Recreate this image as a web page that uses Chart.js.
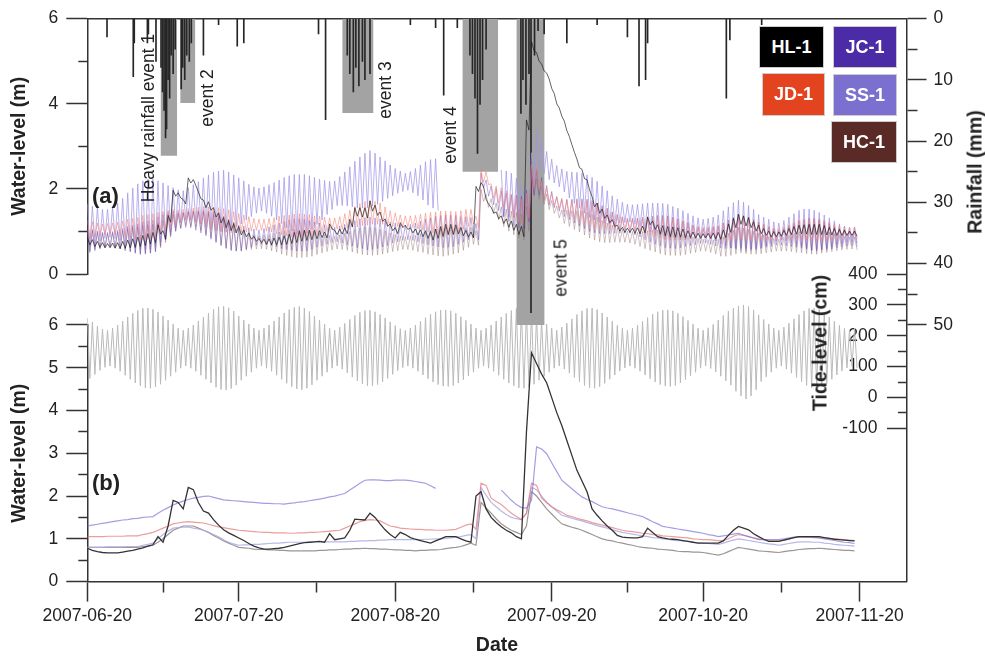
<!DOCTYPE html>
<html><head><meta charset="utf-8">
<script src="https://cdn.jsdelivr.net/npm/chart.js@4.4.1/dist/chart.umd.min.js"></script>
<style>
body{margin:0;background:#fff;}
#wrap{position:relative;width:985px;height:657px;font-family:"Liberation Sans",Arial,sans-serif;color:#222;}
canvas{position:absolute;left:0;top:0;}
.lg{position:absolute;color:#fff;font-weight:bold;font-size:18px;display:flex;align-items:center;justify-content:center;box-sizing:border-box;border:1px solid #ccc;}
.rot{position:absolute;transform:translate(-50%,-50%) rotate(-90deg);white-space:nowrap;font-size:17.5px;}
.bt{font-weight:bold;font-size:19.5px;}
.pl{position:absolute;font-weight:bold;font-size:22px;}
</style></head><body>
<div id="wrap"><canvas id="c" width="985" height="657"></canvas>
<div class="lg" style="left:759px;top:26px;width:65px;height:42px;background:#000;">HL-1</div>
<div class="lg" style="left:833px;top:26px;width:64px;height:42px;background:#4b2ca6;">JC-1</div>
<div class="lg" style="left:762px;top:73px;width:63px;height:43px;background:#e4431f;">JD-1</div>
<div class="lg" style="left:833px;top:74px;width:64px;height:42px;background:#7b6fcf;">SS-1</div>
<div class="lg" style="left:831px;top:121px;width:66px;height:42px;background:#5a2b26;">HC-1</div>
<div class="pl" style="left:92px;top:183px;">(a)</div>
<div class="pl" style="left:92px;top:470px;">(b)</div>
<div class="rot" style="left:148px;top:118px;">Heavy rainfall event 1</div>
<div class="rot" style="left:207px;top:98px;">event 2</div>
<div class="rot" style="left:385px;top:90px;">event 3</div>
<div class="rot" style="left:450px;top:135px;">event 4</div>
<div class="rot" style="left:561px;top:268px;">event 5</div>
<div class="rot bt" style="left:975px;top:172px;">Rainfall (mm)</div>
<div class="rot bt" style="left:820px;top:343px;">Tide-level (cm)</div>
</div>
<script>
// ---- axis / tick definitions (day 0 = 2007-06-20) ----
const X_MAX = 162.3;
const xTickDays = [0, 15, 30, 45.5, 61, 76.5, 92, 107, 122, 137.5, 153];
const xMajorDays = [0, 30, 61, 92, 122, 153];
const xTickLabels = ['2007-06-20', '2007-07-20', '2007-08-20', '2007-09-20', '2007-10-20', '2007-11-20'];
const wlTicksA = [0, 1, 2, 3, 4, 5, 6];
const wlTicksB = [0, 0.5, 1, 1.5, 2, 2.5, 3, 3.5, 4, 4.5, 5, 5.5, 6];
const rainTicks = [0, 5, 10, 15, 20, 25, 30, 35, 40, 45, 50];
const tideTicks = [-100, -50, 0, 50, 100, 150, 200, 250, 300, 350, 400];

// ---- rainfall (mm), hanging bars ----
const rainDays = [3.9,9.1,9.3,11.9,12.1,13.6,14.6,14.9,15.2,15.5,15.7,16.0,16.3,16.6,17.0,17.4,18.6,18.9,19.3,19.7,20.2,20.6,23.0,26.0,29.7,31.0,45.8,47.2,51.5,52.0,52.7,53.2,53.8,54.5,55.0,56.0,64.0,69.0,70.6,73.3,75.8,76.3,76.8,77.3,77.8,78.3,79.0,85.9,86.3,86.9,87.5,87.9,88.6,89.3,90.5,95.0,101.0,107.0,109.3,110.6,111.0,126.6,127.3,133.6];
const rainMM = [3,9.5,4,4,2.5,7,8,12,15,19.5,18,10,13,6,9,5,11.5,8,10,6,7,4,6,1,4.5,4,2.5,16.5,6,9,12,8,11,7,10,9,1,1.5,12.5,1.5,6,9,13,22,14,10,5,15.5,10,14,9,48,6,2,2.5,4,1,3,11,10,4,13,3.5,1];

// ---- heavy rainfall events (grey boxes) ----
const evStart = [14.5, 18.4, 50.5, 74.3, 85.0];
const evEnd = [17.8, 21.4, 56.7, 81.4, 90.6];
const evDepth = [22.4, 13.8, 15.4, 25, 51];

// ---- tide level (cm): daily high / low ----
const tideHi = [258,245,232,222,218,225,235,248,261,273,282,289,290,286,277,264,251,238,225,218,225,235,248,261,273,287,294,296,291,280,264,251,238,225,218,225,235,248,261,274,285,292,295,290,279,264,251,238,225,218,228,240,253,266,276,282,283,278,269,258,245,233,223,218,225,235,247,259,270,278,283,284,281,273,262,250,238,225,218,225,235,248,261,273,282,289,290,286,277,264,251,238,225,218,228,241,255,269,281,289,290,285,274,261,247,234,224,218,225,235,247,259,270,278,283,284,281,273,262,250,238,225,218,226,237,251,266,280,290,297,300,295,284,268,253,238,225,218,228,241,255,269,281,289,290,285,274,261,247,234,224,218,225];
const tideLo = [62,75,88,98,102,95,85,72,59,47,38,31,30,34,43,56,69,82,95,102,95,85,72,59,47,33,26,24,29,40,56,69,82,95,102,95,85,72,59,46,35,28,25,30,41,56,69,82,95,102,92,80,67,54,44,38,37,42,51,62,75,87,97,102,95,85,73,61,50,42,37,36,39,47,58,70,82,95,102,95,85,72,59,47,38,31,30,34,43,56,69,82,95,102,92,79,65,51,39,31,30,35,46,59,73,86,96,102,95,85,73,61,50,42,37,36,39,47,58,70,82,95,102,94,83,69,54,40,20,5,-5,5,25,52,67,82,95,102,92,79,65,51,39,31,30,35,46,59,73,86,96,102,95];

// ---- panel (a): water level (m), daily high / low ----
const N = null;
const ssHi = [1.65,1.60,1.56,1.52,1.52,1.57,1.67,1.78,1.91,2.02,2.12,2.19,2.23,2.23,2.19,2.14,2.08,2.03,1.98,1.96,2.03,2.10,2.17,2.26,2.33,2.39,2.42,2.44,2.40,2.33,2.26,2.19,2.11,2.05,2.02,2.05,2.10,2.15,2.21,2.27,2.31,2.34,2.34,2.34,2.31,2.27,2.23,2.20,2.18,2.19,2.29,2.40,2.52,2.65,2.75,2.84,2.90,2.84,2.75,2.66,2.56,2.48,2.42,2.37,2.41,2.48,2.56,2.64,2.69,2.71,N,N,N,N,N,N,N,N,N,N,N,N,2.45,2.42,2.37,2.25,2.10,1.99,2.85,3.38,3.14,2.88,2.70,2.55,2.47,2.41,2.40,2.39,2.37,2.33,2.27,2.18,2.07,1.96,1.84,1.76,1.69,1.64,1.63,1.64,1.65,1.67,1.67,1.67,1.66,1.64,1.59,1.55,1.49,1.43,1.37,1.32,1.29,1.31,1.34,1.39,1.49,1.58,1.68,1.74,1.69,1.61,1.52,1.40,1.34,1.29,1.23,1.20,1.26,1.34,1.42,1.50,1.53,1.53,1.50,1.45,1.39,1.32,1.25,1.18,1.13,1.10,1.11];
const ssLo = [0.65,0.72,0.78,0.84,0.86,0.83,0.79,0.74,0.67,0.62,0.58,0.57,0.59,0.65,0.75,0.86,0.98,1.09,1.20,1.28,1.27,1.22,1.17,1.10,1.05,1.01,1.00,1.00,1.04,1.11,1.18,1.27,1.35,1.43,1.48,1.43,1.36,1.27,1.19,1.09,1.01,0.94,0.90,0.96,1.05,1.17,1.27,1.40,1.52,1.61,1.61,1.60,1.58,1.55,1.55,1.56,1.60,1.64,1.71,1.78,1.84,1.90,1.94,1.97,1.91,1.84,1.74,1.62,1.55,1.49,N,N,N,N,N,N,N,N,N,N,N,N,1.35,1.34,1.33,1.25,1.20,1.21,1.95,2.41,2.36,2.22,2.14,2.05,1.93,1.79,1.66,1.55,1.43,1.33,1.27,1.22,1.19,1.18,1.16,1.20,1.21,1.22,1.17,1.12,1.05,0.99,0.93,0.89,0.84,0.82,0.81,0.81,0.81,0.83,0.83,0.86,0.87,0.83,0.78,0.71,0.67,0.62,0.58,0.56,0.53,0.55,0.56,0.60,0.66,0.71,0.77,0.80,0.78,0.74,0.70,0.66,0.61,0.57,0.58,0.59,0.61,0.64,0.69,0.72,0.75,0.76,0.73];
const jdHi = [1.26,1.23,1.20,1.18,1.19,1.20,1.22,1.25,1.29,1.31,1.33,1.38,1.40,1.42,1.45,1.47,1.50,1.52,1.51,1.52,1.54,1.55,1.57,1.59,1.58,1.57,1.56,1.54,1.51,1.47,1.42,1.39,1.35,1.31,1.29,1.29,1.31,1.33,1.36,1.38,1.39,1.41,1.42,1.41,1.40,1.37,1.36,1.34,1.32,1.32,1.35,1.42,1.50,1.59,1.66,1.71,1.73,1.71,1.67,1.58,1.49,1.44,1.39,1.37,1.37,1.38,1.41,1.43,1.45,1.46,1.48,1.48,1.48,1.47,1.49,1.52,1.52,1.36,2.44,2.40,2.12,2.07,2.03,1.96,1.88,1.82,1.75,1.89,2.57,2.49,2.16,2.03,1.90,1.82,1.78,1.74,1.74,1.73,1.73,1.72,1.68,1.64,1.58,1.52,1.46,1.40,1.35,1.32,1.32,1.32,1.33,1.33,1.33,1.34,1.34,1.33,1.31,1.28,1.25,1.21,1.16,1.13,1.10,1.12,1.13,1.14,1.17,1.23,1.31,1.37,1.35,1.31,1.26,1.22,1.17,1.12,1.09,1.07,1.11,1.16,1.23,1.27,1.29,1.31,1.31,1.29,1.26,1.22,1.18,1.14,1.11,1.09,1.10];
const jdLo = [0.84,0.87,0.90,0.92,0.93,0.92,0.90,0.87,0.85,0.83,0.81,0.82,0.84,0.88,0.95,1.03,1.10,1.18,1.23,1.26,1.26,1.23,1.19,1.15,1.10,1.05,1.00,0.98,0.97,0.97,0.98,0.99,1.01,1.03,1.03,1.01,0.99,0.95,0.92,0.90,0.87,0.85,0.86,0.87,0.90,0.93,0.96,1.00,1.04,1.06,1.05,1.08,1.10,1.11,1.14,1.15,1.17,1.17,1.17,1.14,1.11,1.12,1.11,1.11,1.09,1.06,1.03,0.99,0.97,0.94,0.92,0.92,0.94,0.97,1.05,1.12,1.18,1.08,2.16,2.10,1.78,1.67,1.57,1.44,1.32,1.22,1.15,1.31,2.03,2.01,1.74,1.67,1.60,1.54,1.46,1.36,1.30,1.23,1.17,1.12,1.08,1.06,1.06,1.06,1.06,1.06,1.05,1.04,1.02,0.98,0.93,0.91,0.87,0.84,0.80,0.79,0.79,0.80,0.81,0.83,0.84,0.85,0.86,0.84,0.81,0.78,0.75,0.77,0.81,0.83,0.81,0.79,0.78,0.78,0.79,0.80,0.81,0.83,0.83,0.82,0.83,0.81,0.79,0.77,0.77,0.77,0.78,0.80,0.82,0.84,0.85,0.85,0.82];
const hcHi = [1.05,1.01,0.98,0.96,0.95,0.97,0.99,1.02,1.06,1.09,1.11,1.15,1.16,1.17,1.22,1.26,1.33,1.40,1.42,1.45,1.47,1.49,1.47,1.46,1.44,1.39,1.35,1.28,1.22,1.15,1.06,1.02,0.98,0.93,0.90,0.92,0.93,0.96,0.99,1.02,1.03,1.05,1.05,1.04,1.02,0.98,0.96,0.93,0.91,0.89,0.92,0.96,1.00,1.05,1.08,1.11,1.10,1.09,1.05,1.02,0.97,0.93,0.90,0.88,0.90,0.91,0.95,0.99,1.03,1.05,1.08,1.10,1.11,1.10,1.08,1.09,1.10,1.02,1.99,1.87,1.77,1.67,1.58,1.53,1.48,1.45,1.40,1.59,2.37,2.24,2.06,1.88,1.73,1.60,1.51,1.50,1.49,1.49,1.48,1.45,1.40,1.34,1.26,1.20,1.15,1.09,1.05,1.01,1.00,0.99,1.00,1.02,1.04,1.04,1.05,1.04,1.02,0.98,0.94,0.91,0.87,0.84,0.82,0.81,0.81,0.82,0.88,0.96,1.03,1.10,1.08,1.05,1.01,0.96,0.92,0.88,0.84,0.82,0.86,0.91,0.95,1.00,1.04,1.07,1.07,1.07,1.03,0.99,0.95,0.91,0.88,0.87,0.87];
const hcLo = [0.55,0.59,0.62,0.64,0.65,0.63,0.61,0.58,0.54,0.51,0.49,0.49,0.50,0.53,0.62,0.74,0.87,1.00,1.08,1.15,1.13,1.11,1.03,0.94,0.86,0.77,0.69,0.62,0.58,0.55,0.54,0.56,0.58,0.59,0.60,0.58,0.55,0.52,0.47,0.44,0.41,0.39,0.39,0.40,0.42,0.46,0.50,0.53,0.57,0.59,0.58,0.56,0.52,0.49,0.46,0.45,0.44,0.45,0.47,0.50,0.53,0.55,0.58,0.58,0.56,0.53,0.51,0.47,0.45,0.43,0.42,0.44,0.47,0.50,0.56,0.63,0.70,0.68,1.71,1.57,1.43,1.27,1.12,1.01,0.92,0.85,0.80,1.01,1.83,1.76,1.64,1.52,1.43,1.32,1.19,1.12,1.05,0.99,0.92,0.85,0.80,0.76,0.74,0.74,0.75,0.75,0.75,0.73,0.70,0.65,0.60,0.56,0.52,0.48,0.45,0.44,0.44,0.44,0.46,0.49,0.51,0.54,0.54,0.51,0.47,0.42,0.42,0.44,0.47,0.50,0.48,0.47,0.47,0.48,0.50,0.52,0.54,0.54,0.54,0.53,0.51,0.50,0.48,0.47,0.47,0.49,0.51,0.53,0.55,0.57,0.58,0.59,0.57];
const jcHi = [1.09,1.05,1.01,0.98,0.98,1.00,1.03,1.07,1.12,1.15,1.18,1.23,1.25,1.27,1.34,1.40,1.45,1.48,1.45,1.44,1.47,1.47,1.49,1.50,1.48,1.46,1.43,1.36,1.29,1.22,1.15,1.13,1.09,1.06,1.04,1.07,1.11,1.16,1.20,1.24,1.28,1.30,1.30,1.29,1.26,1.23,1.20,1.16,1.12,1.10,1.13,1.17,1.22,1.26,1.30,1.33,1.34,1.32,1.30,1.27,1.23,1.20,1.17,1.15,1.17,1.20,1.24,1.29,1.32,1.36,1.38,1.39,1.39,1.38,1.35,1.35,1.33,1.19,2.37,2.21,2.07,2.01,1.95,1.90,1.86,1.85,1.83,1.97,2.54,2.45,2.27,2.08,1.94,1.82,1.75,1.76,1.76,1.77,1.77,1.76,1.73,1.67,1.61,1.55,1.46,1.40,1.34,1.30,1.30,1.31,1.33,1.35,1.36,1.38,1.38,1.37,1.34,1.30,1.25,1.21,1.15,1.10,1.07,1.08,1.10,1.13,1.20,1.27,1.33,1.38,1.36,1.33,1.28,1.22,1.17,1.11,1.06,1.02,1.07,1.13,1.19,1.25,1.28,1.31,1.30,1.28,1.23,1.19,1.12,1.08,1.04,1.01,1.02];
const jcLo = [0.51,0.55,0.59,0.62,0.64,0.62,0.59,0.55,0.52,0.49,0.46,0.47,0.49,0.53,0.66,0.80,0.91,1.02,1.07,1.10,1.09,1.03,0.97,0.90,0.82,0.74,0.67,0.60,0.55,0.54,0.55,0.59,0.63,0.68,0.70,0.69,0.67,0.64,0.60,0.58,0.56,0.54,0.54,0.55,0.58,0.63,0.66,0.70,0.74,0.76,0.73,0.69,0.66,0.62,0.60,0.57,0.58,0.60,0.64,0.67,0.73,0.76,0.79,0.81,0.79,0.76,0.72,0.69,0.66,0.64,0.62,0.63,0.65,0.70,0.75,0.81,0.87,0.81,2.03,1.83,1.63,1.49,1.35,1.24,1.14,1.09,1.07,1.23,1.86,1.85,1.73,1.62,1.56,1.48,1.35,1.28,1.20,1.13,1.07,1.00,0.97,0.95,0.95,0.95,0.96,0.96,0.96,0.96,0.92,0.87,0.81,0.75,0.70,0.66,0.62,0.61,0.60,0.62,0.65,0.67,0.69,0.72,0.73,0.70,0.66,0.61,0.60,0.61,0.61,0.62,0.60,0.59,0.60,0.62,0.63,0.65,0.68,0.68,0.67,0.65,0.63,0.61,0.58,0.55,0.54,0.56,0.57,0.59,0.62,0.64,0.66,0.67,0.64];
const hlHi = [0.87,0.81,0.77,0.74,0.72,0.73,0.74,0.77,0.80,0.83,0.87,0.91,0.95,0.98,1.16,1.02,1.38,1.97,1.91,1.75,2.26,2.22,1.93,1.74,1.70,1.56,1.44,1.33,1.26,1.19,1.12,1.04,0.96,0.89,0.84,0.82,0.83,0.85,0.87,0.90,0.94,0.98,1.01,1.03,1.03,1.03,1.02,0.99,1.18,1.03,1.06,1.09,1.29,1.56,1.56,1.56,1.72,1.62,1.46,1.30,1.18,1.09,1.21,1.15,1.09,1.06,1.04,1.02,1.00,1.06,1.12,1.17,1.17,1.16,1.10,1.03,0.99,2.06,2.15,1.76,1.57,1.46,1.37,1.30,1.25,1.17,1.12,3.62,5.46,5.20,4.93,4.72,4.36,4.00,3.71,3.37,3.04,2.70,2.46,2.22,1.82,1.67,1.53,1.39,1.28,1.15,1.10,1.08,1.08,1.09,1.13,1.34,1.25,1.16,1.14,1.12,1.11,1.09,1.06,1.02,0.99,0.96,0.95,0.96,0.97,0.98,1.04,1.18,1.31,1.41,1.37,1.33,1.23,1.15,1.07,1.01,1.00,0.99,1.03,1.07,1.12,1.15,1.16,1.17,1.17,1.17,1.14,1.10,1.07,1.05,1.03,1.01,1.01];
const hlLo = [0.69,0.65,0.63,0.62,0.62,0.61,0.60,0.61,0.62,0.63,0.65,0.67,0.71,0.74,0.94,0.82,1.22,1.83,1.79,1.65,2.14,2.08,1.77,1.56,1.50,1.34,1.20,1.09,1.02,0.97,0.92,0.88,0.82,0.77,0.74,0.70,0.69,0.69,0.69,0.70,0.72,0.74,0.77,0.79,0.81,0.83,0.86,0.85,1.06,0.93,0.94,0.95,1.11,1.36,1.34,1.32,1.48,1.38,1.24,1.12,1.02,0.95,1.09,1.05,0.97,0.92,0.88,0.84,0.80,0.84,0.88,0.93,0.93,0.94,0.90,0.87,0.85,1.94,2.05,1.64,1.43,1.30,1.19,1.10,1.03,0.93,0.88,3.38,5.24,5.00,4.77,4.58,4.24,3.90,3.59,3.23,2.86,2.50,2.24,1.98,1.58,1.43,1.31,1.21,1.12,1.01,0.98,0.98,0.96,0.95,0.97,1.16,1.05,0.94,0.90,0.88,0.87,0.87,0.86,0.86,0.85,0.84,0.85,0.84,0.83,0.82,0.86,0.98,1.09,1.17,1.13,1.09,1.01,0.95,0.91,0.87,0.88,0.89,0.91,0.93,0.94,0.95,0.94,0.93,0.93,0.93,0.92,0.92,0.91,0.91,0.91,0.91,0.89];

// ---- panel (b): daily mean water level (m) ----
const hlMean = [0.78,0.73,0.70,0.68,0.67,0.67,0.67,0.69,0.71,0.73,0.76,0.79,0.83,0.86,1.05,0.92,1.30,1.90,1.85,1.70,2.20,2.15,1.85,1.65,1.60,1.45,1.32,1.21,1.14,1.08,1.02,0.96,0.89,0.83,0.79,0.76,0.76,0.77,0.78,0.80,0.83,0.86,0.89,0.91,0.92,0.93,0.94,0.92,1.12,0.98,1.00,1.02,1.20,1.46,1.45,1.44,1.60,1.50,1.35,1.21,1.10,1.02,1.15,1.10,1.03,0.99,0.96,0.93,0.90,0.95,1.00,1.05,1.05,1.05,1.00,0.95,0.92,2.00,2.10,1.70,1.50,1.38,1.28,1.20,1.14,1.05,1.00,3.50,5.35,5.10,4.85,4.65,4.30,3.95,3.65,3.30,2.95,2.60,2.35,2.10,1.70,1.55,1.42,1.30,1.20,1.08,1.04,1.03,1.02,1.02,1.05,1.25,1.15,1.05,1.02,1.00,0.99,0.98,0.96,0.94,0.92,0.90,0.90,0.90,0.90,0.90,0.95,1.08,1.20,1.29,1.25,1.21,1.12,1.05,0.99,0.94,0.94,0.94,0.97,1.00,1.03,1.05,1.05,1.05,1.05,1.05,1.03,1.01,0.99,0.98,0.97,0.96,0.95];
const jdMean = [1.05,1.05,1.05,1.05,1.06,1.06,1.06,1.06,1.07,1.07,1.07,1.10,1.12,1.15,1.20,1.25,1.30,1.35,1.37,1.39,1.40,1.39,1.38,1.37,1.34,1.31,1.28,1.26,1.24,1.22,1.20,1.19,1.18,1.17,1.16,1.15,1.15,1.14,1.14,1.14,1.13,1.13,1.14,1.14,1.15,1.15,1.16,1.17,1.18,1.19,1.20,1.25,1.30,1.35,1.40,1.43,1.45,1.44,1.42,1.36,1.30,1.28,1.25,1.24,1.23,1.22,1.22,1.21,1.21,1.20,1.20,1.20,1.21,1.22,1.27,1.32,1.35,1.22,2.30,2.25,1.95,1.87,1.80,1.70,1.60,1.52,1.45,1.60,2.30,2.25,1.95,1.85,1.75,1.68,1.62,1.55,1.52,1.48,1.45,1.42,1.38,1.35,1.32,1.29,1.26,1.23,1.20,1.18,1.17,1.15,1.13,1.12,1.10,1.09,1.07,1.06,1.05,1.04,1.03,1.02,1.00,0.99,0.98,0.98,0.97,0.96,0.96,1.00,1.06,1.10,1.08,1.05,1.02,1.00,0.98,0.96,0.95,0.95,0.97,0.99,1.03,1.04,1.04,1.04,1.04,1.03,1.02,1.01,1.00,0.99,0.98,0.97,0.96];
const ssMean = [1.30,1.32,1.34,1.36,1.38,1.40,1.42,1.44,1.45,1.47,1.48,1.50,1.51,1.52,1.60,1.67,1.73,1.79,1.84,1.88,1.92,1.95,1.97,1.99,2.00,1.97,1.94,1.91,1.90,1.89,1.88,1.87,1.86,1.85,1.84,1.83,1.83,1.82,1.82,1.81,1.83,1.84,1.86,1.87,1.89,1.91,1.93,1.95,1.98,2.00,2.03,2.06,2.14,2.22,2.30,2.37,2.38,2.38,2.37,2.36,2.36,2.37,2.37,2.37,2.36,2.34,2.32,2.30,2.24,2.18,N,N,N,N,N,N,N,N,N,N,N,N,2.14,2.02,1.90,1.80,1.73,1.72,1.90,3.15,3.10,2.99,2.78,2.57,2.37,2.27,2.17,2.07,1.98,1.92,1.87,1.81,1.75,1.72,1.70,1.67,1.64,1.61,1.58,1.55,1.52,1.46,1.40,1.35,1.29,1.27,1.25,1.23,1.21,1.19,1.17,1.15,1.13,1.10,1.08,1.05,1.07,1.09,1.11,1.13,1.09,1.05,1.02,0.98,0.98,0.98,0.98,0.98,1.00,1.02,1.04,1.05,1.04,1.04,1.03,1.02,1.00,0.98,0.96,0.94,0.92,0.91,0.89];
const jcMean = [0.80,0.80,0.80,0.80,0.81,0.81,0.81,0.81,0.82,0.82,0.82,0.85,0.87,0.90,1.00,1.10,1.18,1.25,1.26,1.27,1.28,1.25,1.23,1.20,1.15,1.10,1.05,0.98,0.92,0.88,0.85,0.86,0.86,0.87,0.87,0.88,0.89,0.90,0.90,0.91,0.92,0.92,0.92,0.92,0.92,0.93,0.93,0.93,0.93,0.93,0.93,0.93,0.94,0.94,0.95,0.95,0.96,0.96,0.97,0.97,0.98,0.98,0.98,0.98,0.98,0.98,0.98,0.99,0.99,1.00,1.00,1.01,1.02,1.04,1.05,1.08,1.10,1.00,2.20,2.02,1.85,1.75,1.65,1.57,1.50,1.47,1.45,1.60,2.20,2.15,2.00,1.85,1.75,1.65,1.55,1.52,1.48,1.45,1.42,1.38,1.35,1.31,1.28,1.25,1.21,1.18,1.15,1.13,1.11,1.09,1.07,1.05,1.03,1.02,1.00,0.99,0.97,0.96,0.95,0.94,0.92,0.91,0.90,0.89,0.88,0.87,0.90,0.94,0.97,1.00,0.98,0.96,0.94,0.92,0.90,0.88,0.87,0.85,0.87,0.89,0.91,0.93,0.93,0.93,0.92,0.92,0.90,0.89,0.87,0.86,0.85,0.84,0.83];
const hcMean = [0.80,0.80,0.80,0.80,0.80,0.80,0.80,0.80,0.80,0.80,0.80,0.82,0.83,0.85,0.92,1.00,1.10,1.20,1.25,1.30,1.30,1.30,1.25,1.20,1.15,1.08,1.02,0.95,0.90,0.85,0.80,0.79,0.78,0.76,0.75,0.75,0.74,0.74,0.73,0.73,0.72,0.72,0.72,0.72,0.72,0.72,0.73,0.73,0.74,0.74,0.75,0.76,0.76,0.77,0.77,0.78,0.77,0.77,0.76,0.76,0.75,0.74,0.74,0.73,0.73,0.72,0.73,0.73,0.74,0.74,0.75,0.77,0.79,0.80,0.82,0.86,0.90,0.85,1.85,1.72,1.60,1.47,1.35,1.27,1.20,1.15,1.10,1.30,2.10,2.00,1.85,1.70,1.58,1.46,1.35,1.31,1.27,1.24,1.20,1.15,1.10,1.05,1.00,0.97,0.95,0.92,0.90,0.87,0.85,0.82,0.80,0.79,0.78,0.76,0.75,0.74,0.73,0.71,0.70,0.70,0.69,0.69,0.68,0.66,0.64,0.62,0.65,0.70,0.75,0.80,0.78,0.76,0.74,0.72,0.71,0.70,0.69,0.68,0.70,0.72,0.73,0.75,0.76,0.77,0.77,0.78,0.77,0.76,0.75,0.74,0.73,0.73,0.72];

// ---- build point tables from the arrays ----
function zigzag(hi, lo) {
  const pts = [];
  for (let d = 0; d < hi.length; d++) {
    pts.push({x: d, y: hi[d]});
    pts.push({x: d + 0.5, y: lo[d]});
  }
  return pts;
}
function daily(v) { return v.map((y, d) => ({x: d, y: y})); }

const AX = '#333';
const FONT = '"Liberation Sans", Arial, Helvetica, sans-serif';
Chart.defaults.font.family = FONT;
Chart.defaults.color = '#222';

function lineDs(data, axis, color, width, order) {
  return {type: 'line', data: data, yAxisID: axis, borderColor: color, borderWidth: width,
          pointRadius: 0, tension: 0, fill: false, order: order, spanGaps: false};
}

const datasets = [];
datasets.push(lineDs(zigzag(tideHi, tideLo), 'yTide', 'rgba(186,186,186,1)', 1, 20));
for (let i = 0; i < evStart.length; i++) {
  datasets.push({type: 'line', data: [{x: evStart[i], y: evDepth[i]}, {x: evEnd[i], y: evDepth[i]}],
    yAxisID: 'yRain', borderWidth: 0, borderColor: 'rgba(0,0,0,0)', pointRadius: 0,
    backgroundColor: 'rgb(163,163,163)', fill: 'origin', order: 15});
}
datasets.push({type: 'bar', data: rainDays.map((x, i) => ({x: x, y: rainMM[i]})), yAxisID: 'yRain',
  backgroundColor: '#262626', barThickness: 1, grouped: false, order: 14});
datasets.push(lineDs(zigzag(ssHi, ssLo), 'yA', 'rgba(160,148,232,0.72)', 1, 10));
datasets.push(lineDs(zigzag(hcHi, hcLo), 'yA', 'rgba(150,115,115,0.45)', 1, 9));
datasets.push(lineDs(zigzag(jcHi, jcLo), 'yA', 'rgba(100,65,180,0.42)', 1, 8));
datasets.push(lineDs(zigzag(jdHi, jdLo), 'yA', 'rgba(245,125,115,0.55)', 1, 7));
datasets.push(lineDs(zigzag(hlHi, hlLo), 'yA', 'rgba(25,25,25,0.85)', 0.8, 6));
datasets.push(lineDs(daily(hcMean), 'yB', 'rgba(125,112,112,0.75)', 1.2, 5));
datasets.push(lineDs(daily(jcMean), 'yB', 'rgba(170,170,230,0.85)', 1.2, 4));
datasets.push(lineDs(daily(jdMean), 'yB', 'rgba(228,115,115,0.7)', 1.2, 3));
datasets.push(lineDs(daily(ssMean), 'yB', 'rgba(125,115,215,0.7)', 1.2, 2));
datasets.push(lineDs(daily(hlMean), 'yB', '#333', 1.3, 1));

const tickFont = {size: 17.5};
const titleFont = {size: 19.5, weight: 'bold'};
function setTicks(list) { return s => { s.ticks = list.map(v => ({value: v})); }; }
const SP = '      ';

const chart = new Chart(document.getElementById('c'), {
  type: 'line',
  data: {datasets: datasets},
  options: {
    responsive: false, animation: false, events: [],
    layout: {padding: {left: 8, right: 25, top: 16, bottom: 0}},
    plugins: {legend: {display: false}, tooltip: {enabled: false}},
    scales: {
      x: {type: 'linear', axis: 'x', position: 'bottom', min: 0, max: X_MAX, offset: false,
        afterBuildTicks: setTicks(xTickDays),
        ticks: {autoSkip: false, maxRotation: 0, font: tickFont, padding: 4,
          callback: v => { const i = xMajorDays.indexOf(v); return i >= 0 ? xTickLabels[i] : ''; }},
        grid: {offset: false, drawOnChartArea: false, tickLength: 20, tickWidth: 1.5, tickColor: AX,
          tickBorderDash: c => (c.tick && xMajorDays.indexOf(c.tick.value) < 0) ? [10, 40] : []},
        border: {display: true, color: AX, width: 1.5},
        title: {display: true, text: 'Date', font: titleFont, padding: {top: 3, bottom: 0}}},
      xTop: {type: 'linear', axis: 'x', position: 'top', min: 0, max: X_MAX, offset: false,
        ticks: {display: false}, grid: {offset: false, display: false, drawTicks: false},
        border: {display: true, color: AX, width: 1.5}},
      yA: {type: 'linear', axis: 'y', position: 'left', stack: 'L', stackWeight: 257, weight: 3,
        min: 0, max: 6, afterBuildTicks: setTicks(wlTicksA),
        ticks: {autoSkip: false, font: tickFont, padding: 8, callback: v => (v % 2 === 0 ? String(v) : '')},
        grid: {drawOnChartArea: false, tickLength: 21, tickWidth: 1.5, tickColor: AX,
          tickBorderDash: c => (c.tick && c.tick.value % 2 !== 0) ? [10, 12] : [],
          tickBorderDashOffset: c => (c.tick && c.tick.value % 2 !== 0) ? 10 : 0},
        border: {color: AX, width: 1.5},
        title: {display: true, text: 'Water-level (m)', font: titleFont, padding: {top: 0, bottom: 17}}},
      yGap: {type: 'linear', axis: 'y', position: 'left', stack: 'L', stackWeight: 51, weight: 2,
        min: 0, max: 1, ticks: {display: false}, grid: {display: false, drawTicks: false},
        border: {display: false}},
      yB: {type: 'linear', axis: 'y', position: 'left', stack: 'L', stackWeight: 258, weight: 1,
        min: 0, max: 6, afterBuildTicks: setTicks(wlTicksB),
        ticks: {autoSkip: false, font: tickFont, padding: 8, callback: v => (v % 1 === 0 ? String(v) : '')},
        grid: {drawOnChartArea: false, tickLength: 21, tickWidth: 1.5, tickColor: AX,
          tickBorderDash: c => (c.tick && c.tick.value % 1 !== 0) ? [10, 12] : [],
          tickBorderDashOffset: c => (c.tick && c.tick.value % 1 !== 0) ? 10 : 0},
        border: {color: AX, width: 1.5},
        title: {display: true, text: 'Water-level (m)', font: titleFont, padding: {top: 0, bottom: 17}}},
      yRain: {type: 'linear', axis: 'y', position: 'right', stack: 'R', stackWeight: 308, weight: 1,
        reverse: true, min: 0, max: 50, afterBuildTicks: setTicks(rainTicks),
        ticks: {autoSkip: false, font: tickFont, padding: 7, callback: v => (v % 10 === 0 ? String(v) : '')},
        grid: {drawOnChartArea: false, tickLength: 20, tickWidth: 1.5, tickColor: AX,
          tickBorderDash: c => (c.tick && c.tick.value % 10 !== 0) ? [10, 30] : []},
        border: {color: AX, width: 1.5}},
      yRainLow: {type: 'linear', axis: 'y', position: 'right', stack: 'R', stackWeight: 258, weight: 2,
        min: 0, max: 1, ticks: {display: false}, grid: {display: false, drawTicks: false},
        border: {display: true, color: AX, width: 1.5}},
      yTide: {type: 'linear', axis: 'y', position: {x: X_MAX}, min: -597, max: 1229,
        afterBuildTicks: setTicks(tideTicks),
        ticks: {autoSkip: false, font: tickFont, padding: 8, callback: v => (v % 100 === 0 ? String(v) + SP : '')},
        grid: {drawOnChartArea: false, tickLength: 20, tickWidth: 1.5, tickColor: AX,
          tickBorderDash: c => (c.tick && c.tick.value % 100 !== 0) ? [9, 30] : []},
        border: {display: false}}
    }
  }
});
</script>
</body></html>
